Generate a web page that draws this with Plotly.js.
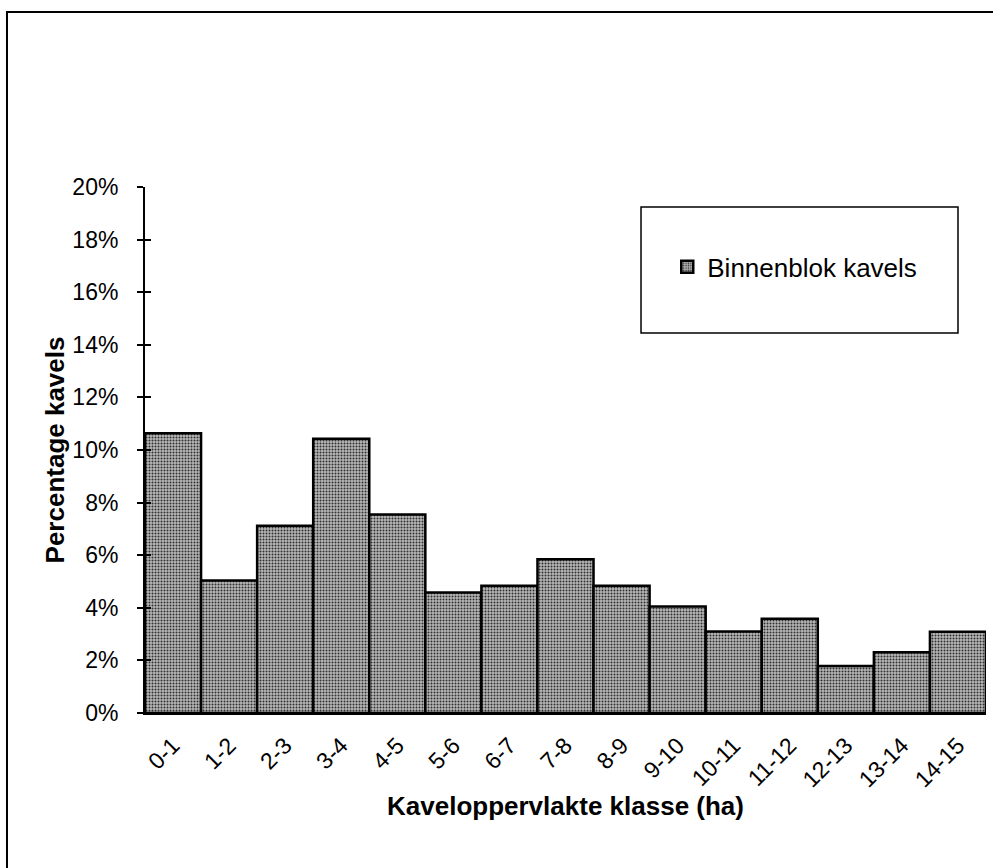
<!DOCTYPE html>
<html>
<head>
<meta charset="utf-8">
<script src="https://cdn.plot.ly/plotly-3.0.1.min.js"></script>
<style>
  html, body { margin: 0; padding: 0; background: #ffffff; }
  #chart { width: 993px; height: 868px; }
</style>
</head>
<body>
<div id="chart"></div>
<script>
// Categories (Kaveloppervlakte klasse, ha)
var categories = ["0-1", "1-2", "2-3", "3-4", "4-5", "5-6", "6-7", "7-8", "8-9", "9-10", "10-11", "11-12", "12-13", "13-14", "14-15"];
// Percentage kavels (fraction)
var binnenblokValues = [0.1064, 0.0504, 0.0712, 0.1043, 0.0755, 0.0458, 0.0484, 0.0585, 0.0484, 0.0405, 0.0310, 0.0358, 0.0179, 0.0231, 0.0309];
var seriesName = "Binnenblok kavels";
var yTickValues = [0, 0.02, 0.04, 0.06, 0.08, 0.10, 0.12, 0.14, 0.16, 0.18, 0.20];

var FONT = "Liberation Sans, Arial, Helvetica, sans-serif";

var trace = {
  type: "bar",
  x: categories,
  y: binnenblokValues,
  name: seriesName,
  showlegend: true,
  marker: {
    color: "#a8a8a8",
    line: { color: "#000000", width: 2.5 },
    pattern: { shape: ".", bgcolor: "#b8b8b8", fgcolor: "#2e2e2e", size: 3, solidity: 0.35 }
  },
  hoverinfo: "x+y"
};

// invisible helper on second axis to carry inside ticks (crossing tick look)
var helper = {
  type: "scatter", x: [categories[0]], y: [0], yaxis: "y2",
  mode: "markers", marker: { opacity: 0 }, showlegend: false, hoverinfo: "skip"
};

var layout = {
  width: 993,
  height: 868,
  margin: { l: 145, r: 7, t: 187, b: 155 },
  paper_bgcolor: "#ffffff",
  plot_bgcolor: "#ffffff",
  bargap: 0,
  font: { family: FONT, color: "#000000", size: 23 },
  xaxis: {
    type: "category",
    range: [-0.5, 14.5],
    tickangle: -45,
    ticks: "",
    ticklabelstandoff: 8,
    showline: true,
    linecolor: "#000000",
    linewidth: 2,
    showgrid: false,
    zeroline: false,
    tickfont: { family: FONT, size: 23, color: "#000000" },
    title: { text: "Kaveloppervlakte klasse (ha)", font: { family: FONT, size: 26, color: "#000000", weight: "bold" }, standoff: 0 }
  },
  yaxis: {
    range: [0, 0.20],
    tickvals: yTickValues,
    tickformat: ".0%",
    ticks: "outside",
    ticklen: 6,
    tickwidth: 2,
    tickcolor: "#000000",
    ticklabelstandoff: 14,
    showline: true,
    linecolor: "#000000",
    linewidth: 2,
    showgrid: false,
    zeroline: false,
    tickfont: { family: FONT, size: 23, color: "#000000" },
    title: { text: "Percentage kavels", font: { family: FONT, size: 26, color: "#000000", weight: "bold" }, standoff: 0 }
  },
  yaxis2: {
    overlaying: "y",
    side: "left",
    anchor: "x",
    range: [0, 0.20],
    tickvals: yTickValues,
    ticks: "inside",
    ticklen: 6,
    tickwidth: 2,
    tickcolor: "#000000",
    showticklabels: false,
    showgrid: false,
    zeroline: false,
    showline: false
  },
  showlegend: true,
  legend: {
    x: 0.621,
    y: 0.848,
    xanchor: "left",
    yanchor: "middle",
    bgcolor: "rgba(0,0,0,0)",
    borderwidth: 0,
    font: { family: FONT, size: 26, color: "#000000" }
  },
  shapes: [
    { type: "rect", xref: "paper", yref: "paper", x0: -0.1641, x1: 1.2, y0: -0.6, y1: 1.3327,
      line: { color: "#000000", width: 2 }, fillcolor: "rgba(0,0,0,0)", layer: "below" },
    { type: "rect", xref: "paper", yref: "paper", x0: 0.5898, x1: 0.9667, y0: 0.7224, y1: 0.962,
      line: { color: "#000000", width: 1.5 }, fillcolor: "#ffffff", layer: "above" }
  ]
};

Plotly.newPlot("chart", [trace, helper], layout, { displayModeBar: false, staticPlot: true });
</script>
</body>
</html>
